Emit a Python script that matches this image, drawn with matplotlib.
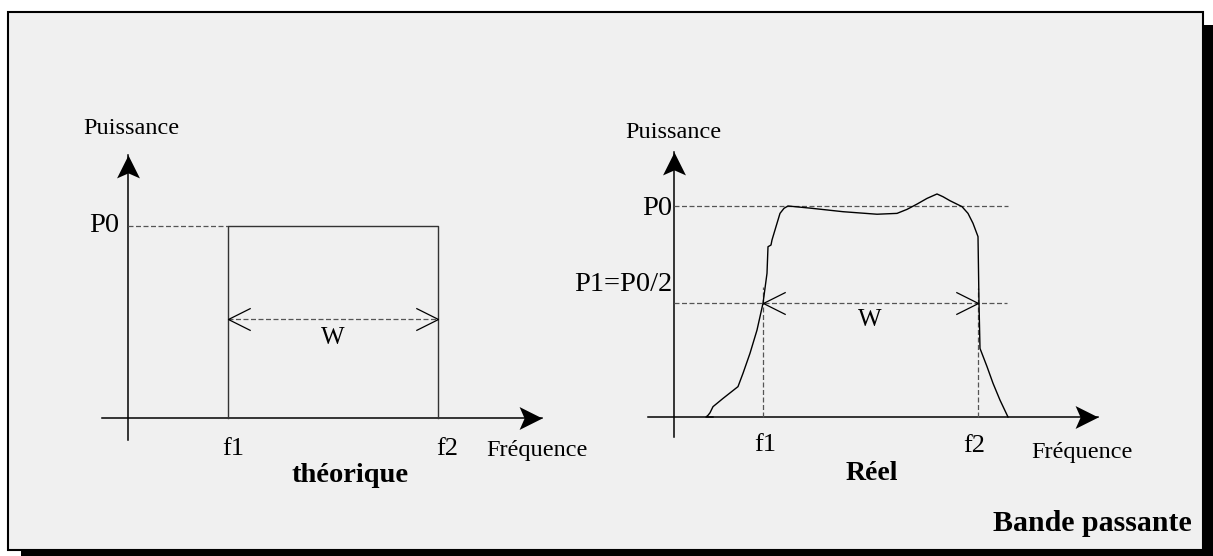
import numpy as np
import matplotlib
matplotlib.use('Agg')
import matplotlib.pyplot as plt
from matplotlib.path import Path
from matplotlib.patches import Rectangle

plt.rcParams['font.family'] = ['Liberation Serif', 'DejaVu Serif']

W_PX, H_PX = 1213, 556

# spectre theorique (frequence, puissance)
th_f1, th_f2 = 1.0, 3.1
th_p0 = 1.0
th_w_level = 0.515

# spectre reel
re_f1, re_f2 = 0.89, 3.04
re_p0 = 1.0
re_p1 = 0.54
real_freq = [0.39, 0.32, 0.34, 0.36, 0.39, 0.49, 0.64, 0.69, 0.76, 0.83, 0.89,
             0.93, 0.94, 0.97, 0.98, 1.03, 1.06, 1.10, 1.14, 1.36, 1.69, 2.03,
             2.23, 2.33, 2.43, 2.53, 2.63, 2.69, 2.76, 2.88, 2.94, 2.99, 3.04,
             3.05, 3.06, 3.13, 3.19, 3.26, 3.34]
real_power = [0.0, 0.0, 0.008, 0.02, 0.049, 0.088, 0.144, 0.207, 0.302, 0.412, 0.539,
              0.681, 0.807, 0.815, 0.839, 0.918, 0.965, 0.989, 1.0, 0.99, 0.973, 0.961,
              0.965, 0.984, 1.009, 1.036, 1.057, 1.044, 1.025, 0.997, 0.965, 0.918, 0.855,
              0.539, 0.325, 0.239, 0.16, 0.08, 0.0]

# marker shapes (tip at the origin)
MV, LT, CP = Path.MOVETO, Path.LINETO, Path.CLOSEPOLY
head_up = Path([(0, 0), (-0.5, -1), (0, -0.78), (0.5, -1), (0, 0)], [MV, LT, LT, LT, CP])
head_right = Path([(0, 0), (-1, 0.5), (-0.78, 0), (-1, -0.5), (0, 0)], [MV, LT, LT, LT, CP])
open_left = Path([(1, 0.5), (0, 0), (1, -0.5)], [MV, LT, LT])
open_right = Path([(-1, 0.5), (0, 0), (-1, -0.5)], [MV, LT, LT])

dash = dict(color='#555555', lw=0.9, ls=(0, (4, 2)))
p_size = 20.5
f_size = 19
w_size = 18
small = 17.5

fig = plt.figure(figsize=(W_PX / 100, H_PX / 100), dpi=100)
fig.patch.set_facecolor('white')

# frame with shadow
bg = fig.add_axes([0, 0, 1, 1])
bg.set_xlim(0, W_PX)
bg.set_ylim(H_PX, 0)
bg.axis('off')
bg.add_patch(Rectangle((21, 25), W_PX - 21, H_PX - 25, facecolor='black', edgecolor='none'))
bg.add_patch(Rectangle((8, 12), 1195, 538, facecolor='#f0f0f0', edgecolor='black', lw=1.5))
bg.text(1192, 531, 'Bande passante', ha='right', va='baseline', fontsize=21.5, fontweight='bold')


def make_ax(origin, sx, sy, xlim, ylim):
    # place an axes so that data (0,0) lands on origin (pixels) with sx, sy px per unit
    ox, oy = origin
    left = ox + xlim[0] * sx
    right = ox + xlim[1] * sx
    bottom = oy - ylim[0] * sy
    top = oy - ylim[1] * sy
    ax = fig.add_axes([left / W_PX, (H_PX - bottom) / H_PX,
                       (right - left) / W_PX, (bottom - top) / H_PX])
    ax.set_xlim(*xlim)
    ax.set_ylim(*ylim)
    ax.patch.set_alpha(0)
    ax.axis('off')
    return ax


def draw_axes(ax, x_lo, x_hi, y_lo, y_hi):
    ax.plot([x_lo, x_hi], [0, 0], color='black', lw=1.1)
    ax.plot([0, 0], [y_lo, y_hi], color='black', lw=1.1)
    ax.plot([x_hi], [0], marker=head_right, ms=33, color='black', mew=0, ls='none')
    ax.plot([0], [y_hi], marker=head_up, ms=33, color='black', mew=0, ls='none')


def w_arrow(ax, xa, xb, y):
    ax.plot([xa], [y], marker=open_left, ms=32, mfc='none', mec='black', mew=0.9, ls='none')
    ax.plot([xb], [y], marker=open_right, ms=32, mfc='none', mec='black', mew=0.9, ls='none')


# ---- theorique ----
ax1 = make_ax((128, 418), 100, 192, (-0.7, 4.7), (-0.4, 1.7))
draw_axes(ax1, -0.26, 4.14, -0.115, 1.37)
ax1.plot([0, th_f1], [th_p0, th_p0], **dash)
ax1.plot([th_f1, th_f1, th_f2, th_f2], [0, th_p0, th_p0, 0], color='#333333', lw=1.0)
ax1.plot([th_f1, th_f2], [th_w_level, th_w_level], **dash)
w_arrow(ax1, th_f1, th_f2, th_w_level)
ax1.text(2.05, th_w_level - 0.1, 'W', ha='center', va='center', fontsize=w_size)
ax1.text(-0.09, th_p0, 'P0', ha='right', va='center', fontsize=p_size)
ax1.text(0.03, 1.51, 'Puissance', ha='center', va='center', fontsize=small)
ax1.text(th_f1 + 0.05, -0.16, 'f1', ha='center', va='center', fontsize=f_size)
ax1.text(th_f2 + 0.09, -0.16, 'f2', ha='center', va='center', fontsize=f_size)
ax1.text(4.09, -0.167, 'Fréquence', ha='center', va='center', fontsize=small)
ax1.text(2.22, -0.30, 'théorique', ha='center', va='center', fontsize=20.5, fontweight='bold')

# ---- reel ----
ax2 = make_ax((674, 417), 100, 211, (-0.6, 4.8), (-0.4, 1.6))
draw_axes(ax2, -0.26, 4.24, -0.095, 1.256)
ax2.plot([0, 3.34], [re_p0, re_p0], **dash)
ax2.plot([0, 3.33], [re_p1, re_p1], **dash)
ax2.plot([re_f1, re_f1], [0, 0.616], **dash)
ax2.plot([re_f2, re_f2], [0, 0.61], **dash)
ax2.plot(real_freq, real_power, color='black', lw=1.0)
w_arrow(ax2, re_f1, re_f2, re_p1)
ax2.text(1.96, re_p1 - 0.08, 'W', ha='center', va='center', fontsize=w_size)
ax2.text(-0.015, re_p0 - 0.01, 'P0', ha='right', va='center', fontsize=p_size)
ax2.text(-0.015, 0.626, 'P1=P0/2', ha='right', va='center', fontsize=p_size)
ax2.text(-0.01, 1.35, 'Puissance', ha='center', va='center', fontsize=small)
ax2.text(re_f1 + 0.02, -0.133, 'f1', ha='center', va='center', fontsize=f_size)
ax2.text(re_f2 - 0.04, -0.137, 'f2', ha='center', va='center', fontsize=f_size)
ax2.text(4.08, -0.166, 'Fréquence', ha='center', va='center', fontsize=small)
ax2.text(1.98, -0.27, 'Réel', ha='center', va='center', fontsize=20, fontweight='bold')

fig.savefig('out.png', dpi=100)
